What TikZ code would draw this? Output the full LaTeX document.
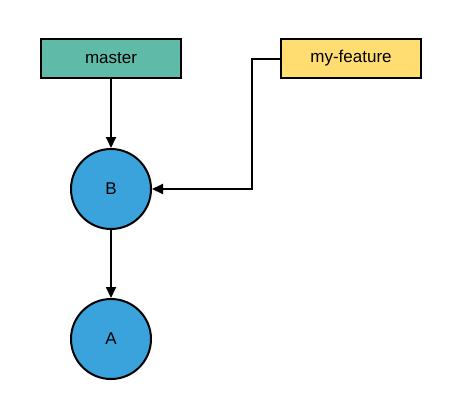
\documentclass[tikz,border=0pt]{standalone}
\usepackage{fontspec}
\setmainfont{Liberation Sans}
\usetikzlibrary{arrows.meta}
\definecolor{tealfill}{RGB}{95,187,168}
\definecolor{yellowfill}{RGB}{255,221,113}
\definecolor{bluefill}{RGB}{58,163,220}
\begin{document}
\begin{tikzpicture}[x=1pt,y=-1pt,
  branch/.style={draw=black,line width=2pt,minimum width=140pt,minimum height=39pt,inner sep=0pt,font=\fontsize{17}{19}\selectfont},
  commit/.style={circle,draw=black,line width=2pt,fill=bluefill,minimum size=80pt,inner sep=0pt,font=\fontsize{17}{19}\selectfont},
  conn/.style={line width=2pt,-{Triangle[length=11pt,width=10pt]}}]
\useasboundingbox (0,0) rectangle (462,418);
\node[branch,fill=tealfill] (master) at (111,58.5) {master};
\node[branch,fill=yellowfill] (feat) at (351,58.5) {my-feature};
\node[commit] (B) at (111,189) {B};
\node[commit] (A) at (111,339) {A};
\coordinate (bend1) at (251.5,58.5);
\coordinate (bend2) at (251.5,189);
\draw[conn] (master) -- (B);
\draw[conn] (B) -- (A);
\draw[conn] (feat.west) -- (bend1) -- (bend2) -- (B.east);
\end{tikzpicture}
\end{document}
